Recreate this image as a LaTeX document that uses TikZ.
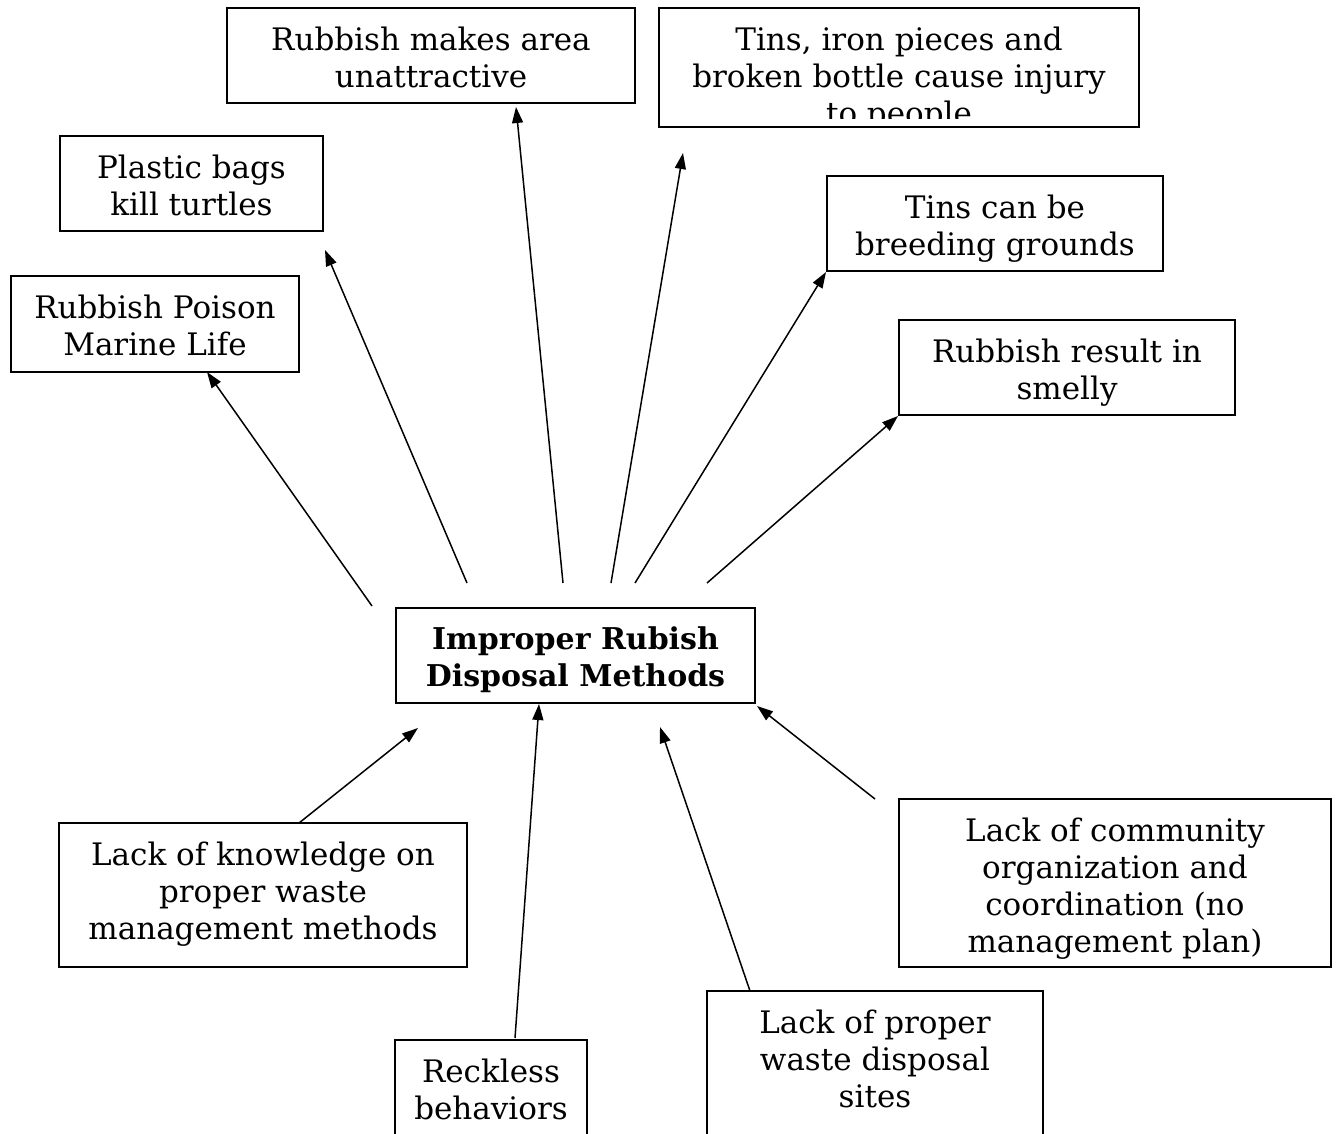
\documentclass[tikz,border=0pt]{standalone}
\usepackage{fontspec}
\setmainfont{DejaVu Serif}
\usetikzlibrary{arrows.meta}
\begin{document}
\begin{tikzpicture}[x=1pt,y=-1pt,
  box/.style={draw, line width=2pt, inner sep=0pt, fill=none},
  txt/.style={font=\fontsize{31}{37}\selectfont, align=center, inner sep=0pt},
  ctxt/.style={font=\fontsize{30}{37}\selectfont\bfseries, align=center, inner sep=0pt},
  arr/.style={line width=1.5pt, -{Triangle[length=16pt,width=11pt]}}]
\useasboundingbox (0,0) rectangle (1337,1133);
\clip (0,0) rectangle (1337,1133);
\fill[white] (0,0) rectangle (1337,1133);
% boxes
\node[box, minimum width=408pt, minimum height=95pt] (b1) at (431,55.5) {};
\node[box, minimum width=480pt, minimum height=119pt] (b2) at (899,67.5) {};
\node[box, minimum width=263pt, minimum height=95pt] (b3) at (191.5,183.5) {};
\node[box, minimum width=336pt, minimum height=95pt] (b4) at (995,223.5) {};
\node[box, minimum width=288pt, minimum height=96pt] (b5) at (155,324) {};
\node[box, minimum width=336pt, minimum height=95pt] (b6) at (1067,367.5) {};
\node[box, minimum width=359pt, minimum height=95pt] (c) at (575.5,655.5) {};
\node[box, minimum width=408pt, minimum height=144pt] (b8) at (263,895) {};
\node[box, minimum width=432pt, minimum height=168pt] (b9) at (1115,883) {};
\node[box, minimum width=192pt, minimum height=140pt] (b10) at (491,1110) {};
\node[box, minimum width=336pt, minimum height=180pt] (b11) at (875,1081) {};
% texts (clipped to the text frame inside each box)
\begin{scope}\clip (b1.south west) rectangle (b1.north east);
\node[txt, anchor=north] (t1) at ([yshift=-20pt]b1.north) {Rubbish makes area\\unattractive};\end{scope}
\begin{scope}\clip ([yshift=10pt]b2.south west) rectangle (b2.north east);
\node[txt, anchor=north] (t2) at ([yshift=-20pt]b2.north) {Tins, iron pieces and\\broken bottle cause injury\\to people};\end{scope}
\begin{scope}\clip (b3.south west) rectangle (b3.north east);
\node[txt, anchor=north] (t3) at ([yshift=-20pt]b3.north) {Plastic bags\\kill turtles};\end{scope}
\begin{scope}\clip (b4.south west) rectangle (b4.north east);
\node[txt, anchor=north] (t4) at ([yshift=-20pt]b4.north) {Tins can be\\breeding grounds};\end{scope}
\begin{scope}\clip (b5.south west) rectangle (b5.north east);
\node[txt, anchor=north] (t5) at ([yshift=-20pt]b5.north) {Rubbish Poison\\Marine Life};\end{scope}
\begin{scope}\clip (b6.south west) rectangle (b6.north east);
\node[txt, anchor=north] (t6) at ([yshift=-20pt]b6.north) {Rubbish result in\\smelly};\end{scope}
\node[ctxt] (tc) at ([yshift=-4pt]c.center) {Improper Rubish\\Disposal Methods};
\begin{scope}\clip ([yshift=10pt]b8.south west) rectangle (b8.north east);
\node[txt, anchor=north] (t8) at ([yshift=-20pt]b8.north) {Lack of knowledge on\\proper waste\\management methods};\end{scope}
\begin{scope}\clip ([yshift=10pt]b9.south west) rectangle (b9.north east);
\node[txt, anchor=north] (t9) at ([yshift=-20pt]b9.north) {Lack of community\\organization and\\coordination (no\\management plan)};\end{scope}
\node[txt, anchor=north] (t10) at ([yshift=-20pt]b10.north) {Reckless\\behaviors};
\node[txt, anchor=north] (t11) at ([yshift=-20pt]b11.north) {Lack of proper\\waste disposal\\sites};
% connector ends
\coordinate (s5) at (372,606); \coordinate (e5) at (207,372);
\coordinate (s3) at (467,583); \coordinate (e3) at (325,250);
\coordinate (s1) at (563,583); \coordinate (e1) at (516,107);
\coordinate (s2) at (611,583); \coordinate (e2) at (683,153);
\coordinate (s4) at (635,583); \coordinate (e4) at (826,272);
\coordinate (s6) at (707,583); \coordinate (e6) at (898,416);
\coordinate (s8) at (299,823); \coordinate (e8) at (418,728);
\coordinate (s10) at (515,1038); \coordinate (e10) at (539,704);
\coordinate (s11) at (750,991); \coordinate (e11) at (660,727);
\coordinate (s9) at (875,799); \coordinate (e9) at (757,706);
\foreach \i in {5,3,1,2,4,6,8,10,11,9} \draw[arr] (s\i) -- (e\i);
\end{tikzpicture}
\end{document}
